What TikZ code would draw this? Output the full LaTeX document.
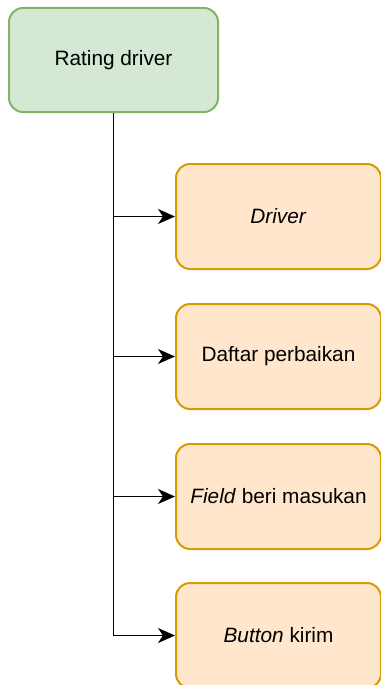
\documentclass[tikz,border=0pt]{standalone}
\usepackage{fontspec}
\setmainfont{Liberation Sans}
\usetikzlibrary{arrows.meta}
\definecolor{gfill}{HTML}{D5E8D4}
\definecolor{gdraw}{HTML}{82B366}
\definecolor{ofill}{HTML}{FFE6CC}
\definecolor{odraw}{HTML}{D79B00}
\begin{document}
\begin{tikzpicture}[x=1pt,y=-1pt,
  greenbox/.style={draw=gdraw,fill=gfill,line width=2pt,rounded corners=14pt,
    minimum width=209pt,minimum height=104pt,inner sep=0pt,
    font=\fontsize{20.8}{25}\selectfont},
  orangebox/.style={draw=odraw,fill=ofill,line width=2pt,rounded corners=14pt,
    minimum width=205pt,minimum height=105pt,inner sep=0pt,
    font=\fontsize{20.8}{25}\selectfont},
  conn/.style={line width=1.8pt,-{Stealth[length=17pt,width=15pt,inset=5pt]}}]
\useasboundingbox (0,0) rectangle (380,685);
\node[greenbox] (top) at (113.5,60) {Rating driver};
\node[orangebox] (b1) at (278.5,216.5) {\textit{Driver}};
\node[orangebox] (b2) at (278.5,356.5) {Daftar perbaikan};
\node[orangebox] (b3) at (278.5,496.5) {\textit{Field} beri masukan};
\node[orangebox] (b4) at (278.5,635.5) {\textit{Button} kirim};
\draw[conn] (top.south) |- (b4.west);
\draw[conn] (top.south) |- (b1.west);
\draw[conn] (top.south) |- (b2.west);
\draw[conn] (top.south) |- (b3.west);
\end{tikzpicture}
\end{document}
